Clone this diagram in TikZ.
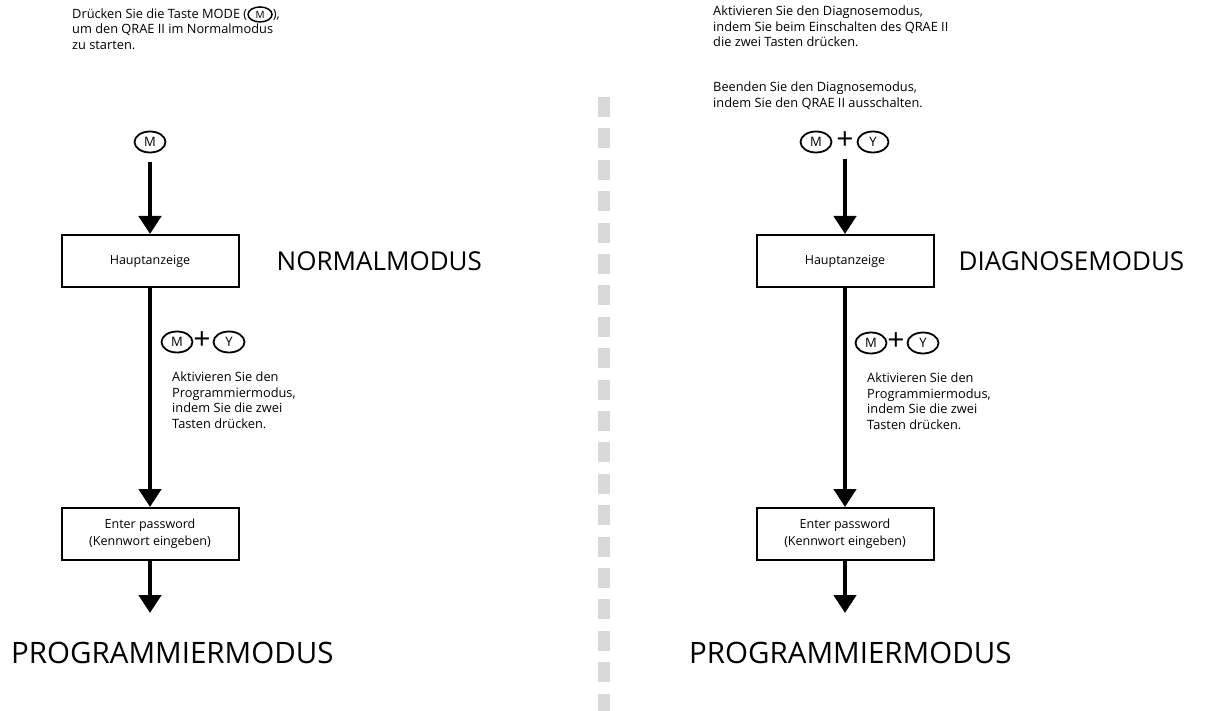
\documentclass[tikz,border=0pt]{standalone}
\usepackage{fontspec}
\setmainfont{Open Sans}
\usepackage{tikz}
\usetikzlibrary{positioning}
\usetikzlibrary{shapes.geometric}
\usetikzlibrary{arrows.meta}
\tikzstyle{block} = [draw, rectangle, line width=2pt, minimum height=52pt, minimum width=177pt, align=center, font=\fontsize{12.5}{17}\selectfont]
\tikzstyle{taste} = [draw, ellipse, line width=1.8pt, minimum width=31pt, minimum height=21pt, inner sep=0pt, font=\fontsize{13}{13}\selectfont]
\tikzstyle{plus} = [inner sep=0pt, font=\fontsize{30}{30}\selectfont]
\tikzstyle{modus} = [inner sep=0pt, anchor=west, font=\fontsize{26}{30}\selectfont]
\tikzstyle{ziel} = [inner sep=0pt, anchor=west, font=\fontsize{29.5}{32}\selectfont]
\tikzstyle{hinweis} = [inner sep=0pt, anchor=north west, align=left, font=\fontsize{12.8}{15.5}\selectfont]
\tikzstyle{flow} = [line width=4.5pt, -{Triangle[width=22pt,length=18pt]}]
\tikzstyle{trenner} = [line width=12pt, color=black!15, dash pattern=on 20pt off 11.4pt]
\tikzstyle{coord} = [coordinate]
\newcommand{\tastein}[1]{\tikz[baseline=(t.base)]\node[draw, ellipse, line width=1.5pt, minimum width=24pt, minimum height=15pt, inner sep=0pt, font=\fontsize{10}{10}\selectfont] (t) {#1};}

\begin{document}
\begin{tikzpicture}[x=1pt,y=-1pt]
    \useasboundingbox (0,0) rectangle (1214,711);

    % left: normal mode
    \node [hinweis] (info1) at (72,6) {Drücken Sie die Taste MODE (\tastein{M}),\\um den QRAE II im Normalmodus\\zu starten.};
    \node [taste] (m1) at (150,142) {M};
    \node [block] (haupt1) at (150,261) {Hauptanzeige};
    \node [modus, right = 37pt of haupt1] (normal) {NORMALMODUS};
    \node [taste] (m2) at (177,342) {M};
    \node [plus] (p2) at (202,341) {+};
    \node [taste] (y2) at (229,342) {Y};
    \node [hinweis] (info2) at (172,372) {Aktivieren Sie den\\Programmiermodus,\\indem Sie die zwei\\Tasten drücken.};
    \node [block] (enter1) at (150,534) {Enter password\\(Kennwort eingeben)};
    \node [coord] (end1) at (150,613) {};
    \node [ziel] (prog1) at (11,653) {PROGRAMMIERMODUS};

    \draw [flow, shorten <=9pt] (m1) -- (haupt1);
    \draw [flow] (haupt1) -- (enter1);
    \draw [flow] (enter1) -- (end1);

    % divider
    \draw [trenner] (604,97) -- (604,711);

    % right: diagnose mode
    \node [hinweis] (info3) at (713,6) {Aktivieren Sie den Diagnosemodus,\\indem Sie beim Einschalten des QRAE II\\die zwei Tasten drücken.};
    \node [hinweis] (info4) at (713,82) {Beenden Sie den Diagnosemodus,\\indem Sie den QRAE II ausschalten.};
    \node [taste] (m3) at (816,142) {M};
    \node [plus] (p3) at (845,141) {+};
    \node [taste] (y3) at (873,142) {Y};
    \node [block] (haupt2) at (845,261) {Hauptanzeige};
    \node [modus, right = 24pt of haupt2] (diag) {DIAGNOSEMODUS};
    \node [taste] (m4) at (871,343) {M};
    \node [plus] (p4) at (896,342) {+};
    \node [taste] (y4) at (923,343) {Y};
    \node [hinweis] (info5) at (867,373) {Aktivieren Sie den\\Programmiermodus,\\indem Sie die zwei\\Tasten drücken.};
    \node [block] (enter2) at (845,534) {Enter password\\(Kennwort eingeben)};
    \node [coord] (end2) at (845,613) {};
    \node [ziel] (prog2) at (689,653) {PROGRAMMIERMODUS};

    \draw [flow, shorten <=9pt] (p3.south) -- (haupt2);
    \draw [flow] (haupt2) -- (enter2);
    \draw [flow] (enter2) -- (end2);
\end{tikzpicture}
\end{document}
